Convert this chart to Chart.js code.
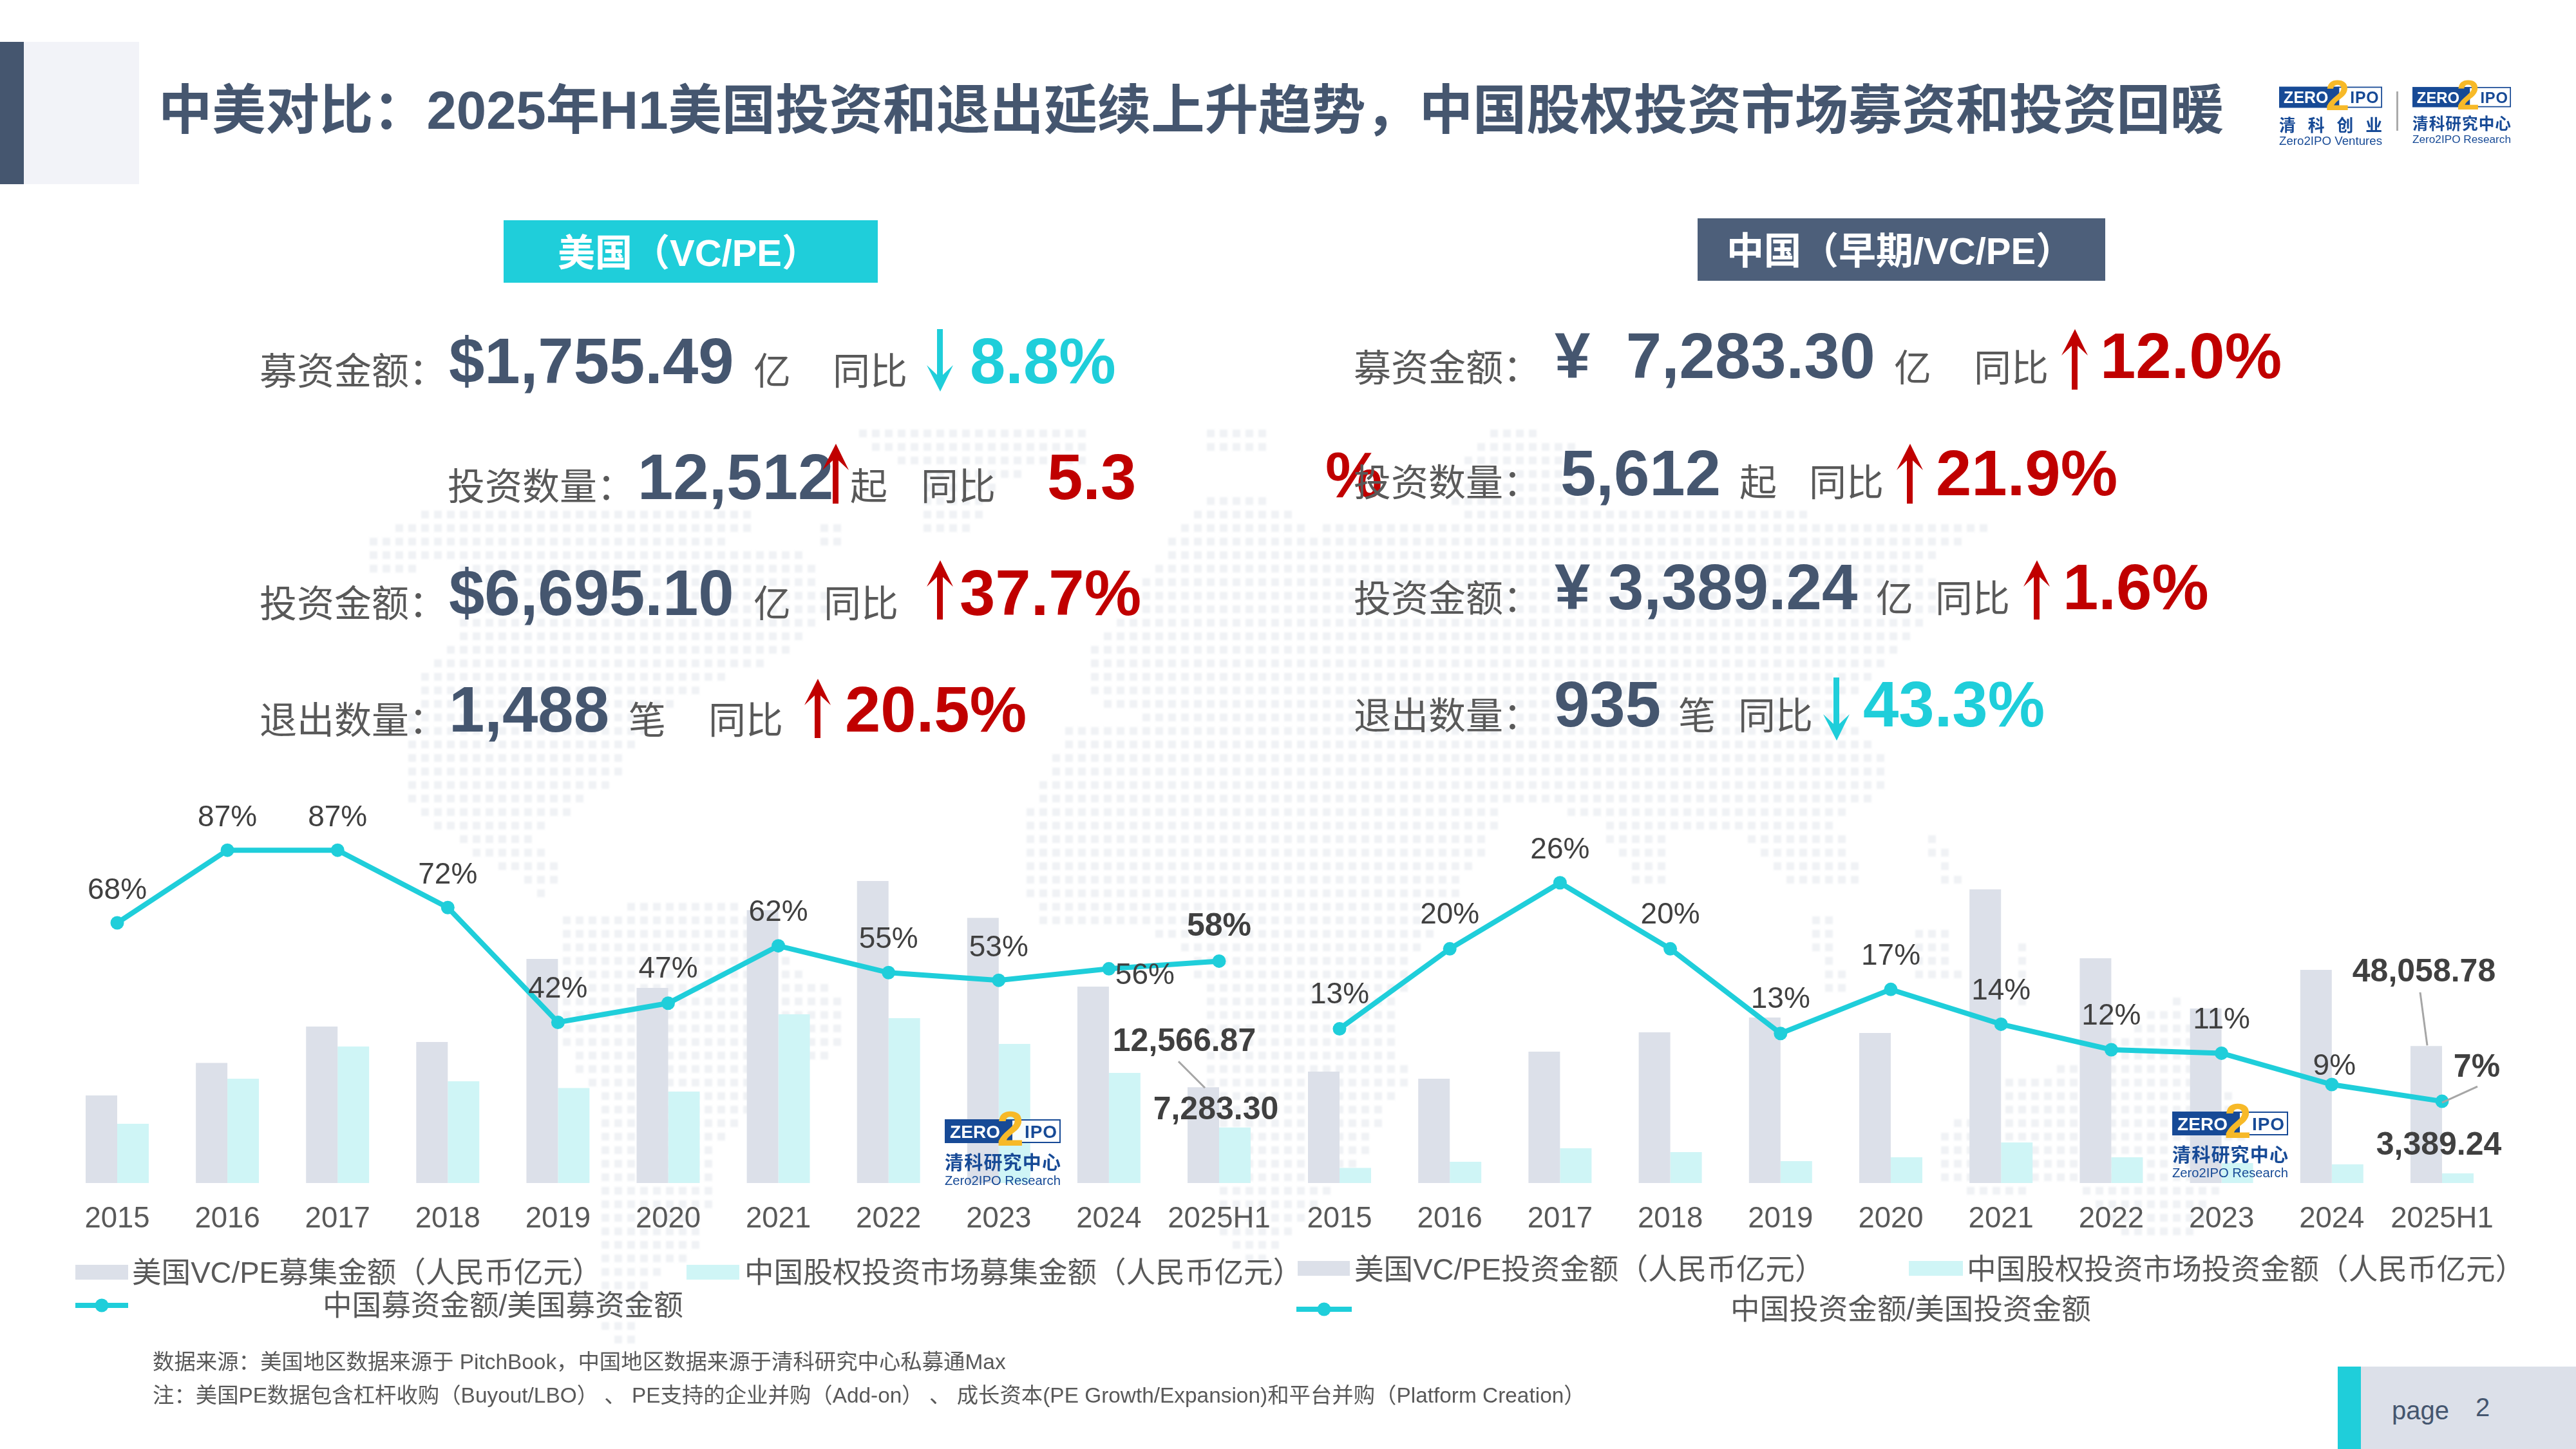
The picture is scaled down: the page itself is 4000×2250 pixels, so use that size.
<!DOCTYPE html>
<html lang="zh-CN">
<head>
<meta charset="utf-8">
<title>中美对比</title>
<script src="https://cdn.jsdelivr.net/npm/chart.js@4/dist/chart.umd.min.js"></script>
<style>
html,body{margin:0;padding:0;background:#fff;width:4000px;height:2250px;overflow:hidden}
#page{position:relative;width:4000px;height:2250px;overflow:hidden;font-family:"Liberation Sans","Noto Sans CJK SC",sans-serif;transform-origin:0 0}
#page>*{position:absolute}
.t{white-space:pre;line-height:1;transform:translateY(-50%)}
canvas{display:block}
#map{left:0;top:0;filter:blur(1.5px)}
</style>
</head>
<body>
<div id="page"><canvas id="map" width="4000" height="2250"></canvas></div>
<script>
// ---------- chart data ----------
const categories = ['2015','2016','2017','2018','2019','2020','2021','2022','2023','2024','2025H1'];
const usFundraising = [11490,15760,20530,18500,29400,25600,35800,39630,34800,25770,12566.87];
const cnFundraising = [7770,13690,17910,13350,12460,12000,22140,21630,18250,14450,7283.30];
const fundRatio = [68,87,87,72,42,47,62,55,53,56,58];
const usInvestment = [39100,36612,46104,52884,58082,52658,103056,78874,61250,74806,48058.78];
const cnInvestment = [5311,7458,12204,10848,7684,9040,14238,9040,7000,6554,3389.24];
const investRatio = [13.3,20.2,25.9,20.2,12.9,16.7,13.7,11.5,11.2,8.5,7.05];

const NAVY='#45566F', GRAY='#595959', CYAN='#1FCEDA', RED='#C00000', BAR_A='#DCE0E9', BAR_B='#CFF5F6', LABEL='#404040';
const page=document.getElementById('page');

// ---------- background dotted map ----------
(function(){
  const z7=p=>[400+p[0]*1.02,600+p[1]*.995], z8=p=>[1950+p[0]*1.02,600+p[1]*.995], id=p=>p;
  const polys=[
   [z7,[[175,240],[270,190],[770,190],[740,240],[700,240],[830,260],[880,340],[810,420],[700,460],[600,520],[540,620],[420,700],[460,750],[440,800],[380,760],[290,700],[230,660],[225,590],[240,480],[260,430],[310,390],[300,280],[175,290]]],
   [z7,[[910,75],[950,55],[1260,55],[1255,125],[1130,140],[1080,240],[1010,240],[1010,140],[960,110]]],
   [z7,[[860,205],[900,205],[900,245],[860,245]]],
   [z7,[[1450,70],[1530,70],[1530,110],[1450,110]]],
   [z7,[[460,820],[730,800],[780,880],[900,960],[880,1040],[780,1090],[700,1200],[680,1340],[600,1400],[580,1500],[530,1480],[510,1300],[530,1130],[470,1040],[460,900]]],
   [id,[[1665,1117],[1950,1130],[2150,1170],[2348,1197],[2310,1320],[2200,1480],[2160,1595],[2185,1675],[2123,1784],[2032,1884],[1960,1975],[1900,1930],[1870,1700],[1858,1495],[1780,1440],[1610,1440],[1590,1360],[1590,1260]]],
   [z8,[[120,205],[700,190],[1110,220],[1020,270],[1040,340],[1000,400],[960,440],[880,500],[970,580],[960,630],[880,680],[930,780],[800,770],[760,710],[640,690],[620,790],[590,790],[520,680],[370,640],[150,640],[0,560],[-240,500],[-270,440],[-190,340],[-120,230],[-60,160],[0,160],[100,230]]],
   [z8,[[290,130],[350,70],[410,70],[480,90],[520,190],[300,190]]],
   [z8,[[1040,1170],[1150,1080],[1250,1060],[1330,1000],[1400,950],[1450,1050],[1510,1150],[1470,1260],[1420,1330],[1320,1330],[1250,1240],[1100,1270],[1040,1230]]],
   [z8,[[840,820],[870,820],[900,940],[870,950]]],
   [z8,[[990,850],[1060,850],[1070,920],[1000,940]]],
   [z8,[[1150,870],[1170,870],[1180,960],[1150,960]]],
   [z8,[[1020,690],[1100,790],[1060,790],[1020,730]]]
  ];
  const c=document.getElementById('map').getContext('2d');
  const paths=polys.map(([f,pts])=>{const r=new Path2D();pts.map(f).forEach((p,i)=>i?r.lineTo(p[0],p[1]):r.moveTo(p[0],p[1]));r.closePath();return r});
  c.fillStyle='#F0F2F5';
  for(let y=610;y<2240;y+=21)for(let x=400;x<3560;x+=20){
    if(paths.some(r=>c.isPointInPath(r,x,y)))c.fillRect(x-6,y-6,12,12);
  }
})();

// ---------- helpers ----------
function box(x,y,w,h,color){const d=document.createElement('div');d.style.cssText=`left:${x}px;top:${y}px;width:${w}px;height:${h}px;background:${color}`;page.appendChild(d);return d}
function T(text,x,y,size,color,bold){const s=document.createElement('span');s.className='t';s.textContent=text;s.style.cssText=`left:${x}px;top:${y}px;font-size:${size}px;color:${color};font-weight:${bold?700:400}`;page.appendChild(s);return s}
function svgEl(x,y,w,h,inner){const d=document.createElement('div');d.style.cssText=`left:${x}px;top:${y}px;width:${w}px;height:${h}px`;d.innerHTML=`<svg xmlns="http://www.w3.org/2000/svg" width="${w}" height="${h}" viewBox="0 0 ${w} ${h}" style="display:block;overflow:visible">${inner}</svg>`;page.appendChild(d);return d}
function arrow(x,y1,y2,up,color){
  const h=y2-y1;
  const d=up?`M21 0L41 41L25 26L25 ${h}L16 ${h}L16 26L0 41Z`:`M21 ${h}L41 ${h-41}L25 ${h-26}L25 0L16 0L16 ${h-26}L0 ${h-41}Z`;
  svgEl(x-21,y1,42,h,`<path d="${d}" fill="${color}"/>`);
}
function logo(x,y,k,line1,line2){
  const b='#174A96';
  svgEl(x,y,180*k,120*k,`<g transform="scale(${k})" font-family="Liberation Sans,Noto Sans CJK SC,sans-serif">
   <rect x="0" y="13" width="104" height="37" fill="${b}"/>
   <rect x="104" y="14" width="75" height="35" fill="#fff" fill-opacity=".8" stroke="${b}" stroke-width="2"/>
   <text x="8" y="42" font-size="28" font-weight="700" fill="#fff" textLength="78" lengthAdjust="spacing">ZERO</text>
   <text x="124" y="42" font-size="28" font-weight="700" fill="${b}" textLength="50" lengthAdjust="spacing">IPO</text>
   <text x="81" y="54" font-size="76" font-weight="700" fill="#F7B928" textLength="42" lengthAdjust="spacingAndGlyphs">2</text>
   <text x="0" y="91" font-size="29" font-weight="700" fill="${b}" textLength="180" lengthAdjust="spacing">${line1}</text>
   <text x="0" y="115" font-size="20" fill="${b}" textLength="180" lengthAdjust="spacingAndGlyphs">${line2}</text></g>`);
}

// ---------- header ----------
box(0,65,37,221,'#45566F');
box(37,65,179,221,'#F2F3F8');
T('中美对比\uFF1A2025年H1美国投资和退出延续上升趋势\uFF0C中国股权投资市场募资和投资回暖',246,172,83.3,NAVY,true);
logo(3539,123,.889,'清 科 创 业','Zero2IPO Ventures');
box(3721,142,3,61,'#ABABAB');
logo(3746,124,.85,'清科研究中心','Zero2IPO Research');

// ---------- badges ----------
box(782,342,581,97,CYAN); box(2636,339,633,97,'#4D5F7A');
T('美国\uFF08VC/PE\uFF09',866,393,58,'#fff',true);
T('中国\uFF08早期/VC/PE\uFF09',2681,390,58,'#fff',true);

// ---------- KPI rows ----------
const L=58,V=99.5;
T('募资金额\uFF1A',403,577,L,GRAY);   T('$1,755.49',697,561,V,NAVY,true); T('亿',1170,577,L,GRAY); T('同比',1293,577,L,GRAY);
arrow(1460,511,608,false,CYAN);  T('8.8%',1506,561,V,CYAN,true);
T('投资数量\uFF1A',695,756,L,GRAY);   T('12,512',990,741,V,NAVY,true);
T('起',1320,756,L,GRAY);         T('同比',1430,756,L,GRAY);          T('5.3',1626,741,V,RED,true);
arrow(1298,689,782,true,RED);
T('投资金额\uFF1A',403,938,L,GRAY);   T('$6,695.10',697,921,V,NAVY,true); T('亿',1170,938,L,GRAY); T('同比',1279,938,L,GRAY);
arrow(1460,870,962,true,RED);    T('37.7%',1490,921,V,RED,true);
T('退出数量\uFF1A',403,1119,L,GRAY);  T('1,488',697,1102,V,NAVY,true);    T('笔',976,1119,L,GRAY); T('同比',1100,1119,L,GRAY);
arrow(1270,1054,1146,true,RED);  T('20.5%',1312,1102,V,RED,true);

T('募资金额\uFF1A',2102,572,L,GRAY);  T('¥  7,283.30',2414,553,V,NAVY,true); T('亿',2941,572,L,GRAY); T('同比',3065,572,L,GRAY);
arrow(3222,511,605,true,RED);    T('12.0%',3261,553,V,RED,true);
T('%',2058,738,V,RED,true);
T('投资数量\uFF1A',2102,750,L,GRAY);  T('5,612',2423,735,V,NAVY,true);    T('起',2701,750,L,GRAY); T('同比',2809,750,L,GRAY);
arrow(2966,689,782,true,RED);    T('21.9%',3006,735,V,RED,true);
T('投资金额\uFF1A',2102,930,L,GRAY);  T('¥ 3,389.24',2414,912,V,NAVY,true); T('亿',2913,930,L,GRAY); T('同比',3005,930,L,GRAY);
arrow(3163,870,962,true,RED);    T('1.6%',3203,912,V,RED,true);
T('退出数量\uFF1A',2102,1112,L,GRAY); T('935',2413,1094,V,NAVY,true);     T('笔',2606,1112,L,GRAY); T('同比',2699,1112,L,GRAY);
arrow(2852,1052,1150,false,CYAN);T('43.3%',2893,1094,V,CYAN,true);

// ---------- charts ----------
const labelPlugin={
  id:'ratioLabels',
  afterDatasetsDraw(chart,args,o){
    const c=chart.ctx, pts=chart.getDatasetMeta(2).data, vals=chart.data.datasets[2].data;
    const nudge=3;
    c.save();c.textAlign='center';c.textBaseline='middle';
    pts.forEach((p,i)=>{
      const off=o.offsets[i]||[0,-54], bold=o.boldIndex===i;
      c.font=`${bold?'700 50px':'400 46px'} "Liberation Sans","Noto Sans CJK SC",sans-serif`;
      c.fillStyle=LABEL;
      c.fillText(Math.round(vals[i])+'%',p.x+off[0],p.y+off[1]+nudge);
    });
    (o.leaders||[]).forEach(l=>{
      const e=chart.getDatasetMeta(l.ds).data[l.idx];
      c.strokeStyle='#A6A6A6';c.lineWidth=3;c.beginPath();
      c.moveTo(e.x+l.from[0],e.y+l.from[1]);c.lineTo(e.x+l.to[0],e.y+l.to[1]);c.stroke();
    });
    c.font='700 50px "Liberation Sans",sans-serif';c.fillStyle=LABEL;
    (o.callouts||[]).forEach(l=>{
      const e=chart.getDatasetMeta(l.ds).data[l.idx], v=chart.data.datasets[l.ds].data[l.idx];
      c.fillText(v.toLocaleString('en-US',{minimumFractionDigits:2,maximumFractionDigits:2}),e.x+l.at[0],e.y+l.at[1]+nudge);
    });
    c.restore();
  }
};
function makeChart(left,padL,padR,labels,a,b,r,maxBar,maxLine,opts){
  const cv=document.createElement('canvas');cv.width=2000;cv.height=790;
  cv.style.cssText=`left:${left}px;top:1150px;width:2000px;height:790px`;page.appendChild(cv);
  return new Chart(cv,{
    type:'bar',
    data:{labels:categories,datasets:[
      {label:labels[0],data:a,backgroundColor:BAR_A,yAxisID:'y',order:2,categoryPercentage:.5724,barPercentage:1},
      {label:labels[1],data:b,backgroundColor:BAR_B,yAxisID:'y',order:2,categoryPercentage:.5724,barPercentage:1},
      {type:'line',label:labels[2],data:r,yAxisID:'y1',order:1,borderColor:CYAN,backgroundColor:CYAN,borderWidth:8,pointRadius:10.5,pointBackgroundColor:CYAN,pointBorderWidth:0,tension:0,clip:false}
    ]},
    options:{
      responsive:false,animation:false,devicePixelRatio:1,
      layout:{padding:{left:padL,right:padR,top:87,bottom:0}},
      plugins:{legend:{display:false},tooltip:{enabled:false},ratioLabels:opts},
      scales:{
        x:{grid:{display:false},border:{display:false},
           ticks:{color:GRAY,font:{size:45.5,family:'"Liberation Sans","Noto Sans CJK SC",sans-serif'},padding:21,maxRotation:0,autoSkip:false},
           afterFit(s){s.height=103;s.paddingLeft=0;s.paddingRight=0}},
        y:{display:false,min:0,max:maxBar,grid:{display:false}},
        y1:{display:false,min:0,max:maxLine,grid:{display:false}}
      }
    },
    plugins:[labelPlugin]
  });
}
const d=-54;
makeChart(0,96.45,21.45,['美国VC/PE募集金额\uFF08人民币亿元\uFF09','中国股权投资市场募集金额\uFF08人民币亿元\uFF09','中国募资金额/美国募资金额'],
  usFundraising,cnFundraising,fundRatio,50700,101,{
    offsets:[[0,-53],[0,-53],[0,-53],[0,-53],[0,d],[0,-55],[0,d],[0,d],[0,-53],[56,8],[0,-56]],boldIndex:10,
    leaders:[{ds:0,idx:10,from:[-38.5,-40],to:[2.5,1]}],
    callouts:[{ds:0,idx:10,at:[-29.5,-73.5]},{ds:1,idx:10,at:[-29.5,-30]}]
  });
makeChart(1980,14.4,102.4,['美国VC/PE投资金额\uFF08人民币亿元\uFF09','中国股权投资市场投资金额\uFF08人民币亿元\uFF09','中国投资金额/美国投资金额'],
  usInvestment,cnInvestment,investRatio,135600,33.33,{
    offsets:[[0,-55],[0,-55],[0,-53],[0,-55],[0,-55],[0,d],[0,d],[0,-55],[0,d],[4,-31],[54,-55]],boldIndex:10,
    leaders:[{ds:0,idx:10,from:[-9.5,-83.5],to:[1.5,-1]},{ds:2,idx:10,from:[55,-23],to:[0,2]}],
    callouts:[{ds:0,idx:10,at:[-3.5,-117]},{ds:1,idx:10,at:[-29.5,-46]}]
  });

// ---------- watermark logos ----------
logo(1467,1725,1,'清科研究中心','Zero2IPO Research');
logo(3373,1713,1,'清科研究中心','Zero2IPO Research');

// ---------- legends ----------
function lineKey(x,w,y){svgEl(x,y-12,w,24,`<rect x="0" y="8" width="${w}" height="8" fill="${CYAN}"/><circle cx="${w/2}" cy="12" r="10.5" fill="${CYAN}"/>`)}
const LG=45.6;
box(117,1964,82,23,BAR_A);  T('美国VC/PE募集金额\uFF08人民币亿元\uFF09',205,1977,LG,GRAY);
box(1066,1964,82,23,BAR_B); T('中国股权投资市场募集金额\uFF08人民币亿元\uFF09',1156,1977,LG,GRAY);
lineKey(117,82,2027);       T('中国募资金额/美国募资金额',501,2028,LG,GRAY);
box(2015,1958,81,23,BAR_A); T('美国VC/PE投资金额\uFF08人民币亿元\uFF09',2103,1972,LG,GRAY);
box(2964,1958,84,23,BAR_B); T('中国股权投资市场投资金额\uFF08人民币亿元\uFF09',3054,1972,LG,GRAY);
lineKey(2013,86,2033);      T('中国投资金额/美国投资金额',2687,2034,LG,GRAY);

// ---------- footer ----------
T('数据来源\uFF1A美国地区数据来源于 PitchBook\uFF0C中国地区数据来源于清科研究中心私募通Max',237,2115,33.4,GRAY);
T('注\uFF1A美国PE数据包含杠杆收购\uFF08Buyout/LBO\uFF09 、 PE支持的企业并购\uFF08Add-on\uFF09 、 成长资本(PE Growth/Expansion)和平台并购\uFF08Platform Creation\uFF09',237,2167,33.4,GRAY);
box(3630,2122,36,128,CYAN);
box(3666,2122,334,128,BAR_A);
T('page',3714,2190,40,NAVY);
T('2',3844,2185,40,NAVY);
</script>
</body>
</html>
